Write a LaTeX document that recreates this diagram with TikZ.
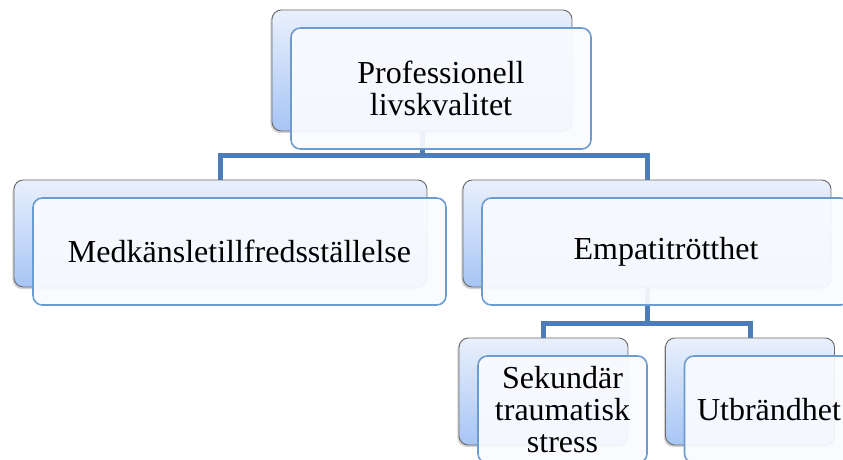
\documentclass[tikz,border=0pt]{standalone}
\usepackage{fontspec}
\setmainfont{Liberation Serif}
\usepackage{xcolor}
\usepackage{tikz}
\usetikzlibrary{shadows,backgrounds}

\definecolor{backtop}{HTML}{E9F0FC}
\definecolor{backbot}{HTML}{A7C5F5}
\definecolor{frontline}{HTML}{6C9BD0}
\definecolor{frontfill}{HTML}{FAFBFF}
\definecolor{linkblue}{HTML}{4C7DB8}

\begin{document}
\begin{tikzpicture}[x=0.75pt, y=-0.75pt,
  backbox/.style={rectangle, draw=gray!85!black, line width=0.7pt, rounded corners=7pt,
    top color=backtop, bottom color=backbot, minimum height=80.25pt,
    drop shadow={shadow xshift=-1.2pt, shadow yshift=-1.5pt, opacity=0.35}},
  frontbox/.style={rectangle, draw=frontline, line width=1.2pt, rounded corners=7pt,
    fill=frontfill, fill opacity=0.93, text opacity=1, align=center,
    minimum height=80.25pt, inner sep=2pt, font=\fontsize{24}{24}\selectfont},
  link/.style={draw=linkblue, line width=3.75pt}
]
\useasboundingbox (0,0) rectangle (843,460);

\node[backbox, minimum width=225pt, minimum height=90.75pt] (rootbg) at (422,70.5) {};
\node[backbox, minimum width=309.75pt] (satbg) at (220.5,233.5) {};
\node[backbox, minimum width=276pt] (fatbg) at (647,233.5) {};
\node[backbox, minimum width=126.75pt] (stsbg) at (543.5,391.5) {};
\node[backbox, minimum width=126.75pt] (burnbg) at (750,391.5) {};

\node[frontbox, minimum width=225pt, minimum height=90.75pt] (root)
  at ([shift={(19,18)}]rootbg) {Professionell\\livskvalitet};
\node[frontbox, minimum width=309.75pt] (sat)
  at ([shift={(19,18)}]satbg) {Medkänsletillfredsställelse};
\node[frontbox, minimum width=276pt] (fat)
  at ([shift={(19,18)}]fatbg) {Empatitrötthet};
\node[frontbox, minimum width=126.75pt] (sts)
  at ([shift={(19,18)}]stsbg) {Sekundär\\traumatisk\\stress};
\node[frontbox, minimum width=126.75pt] (burn)
  at ([shift={(19,18)}]burnbg) {Utbrändhet};

% tree links behind the boxes
\begin{scope}[on background layer]
\draw[link] (rootbg.south) -- ++(0,24) -| (satbg.north);
\draw[link] (rootbg.south) -- ++(0,24) -| (fatbg.north);
\draw[link] (fatbg.south) -- ++(0,36) -| (stsbg.north);
\draw[link] (fatbg.south) -- ++(0,36) -| (burnbg.north);
\end{scope}

\end{tikzpicture}
\end{document}
